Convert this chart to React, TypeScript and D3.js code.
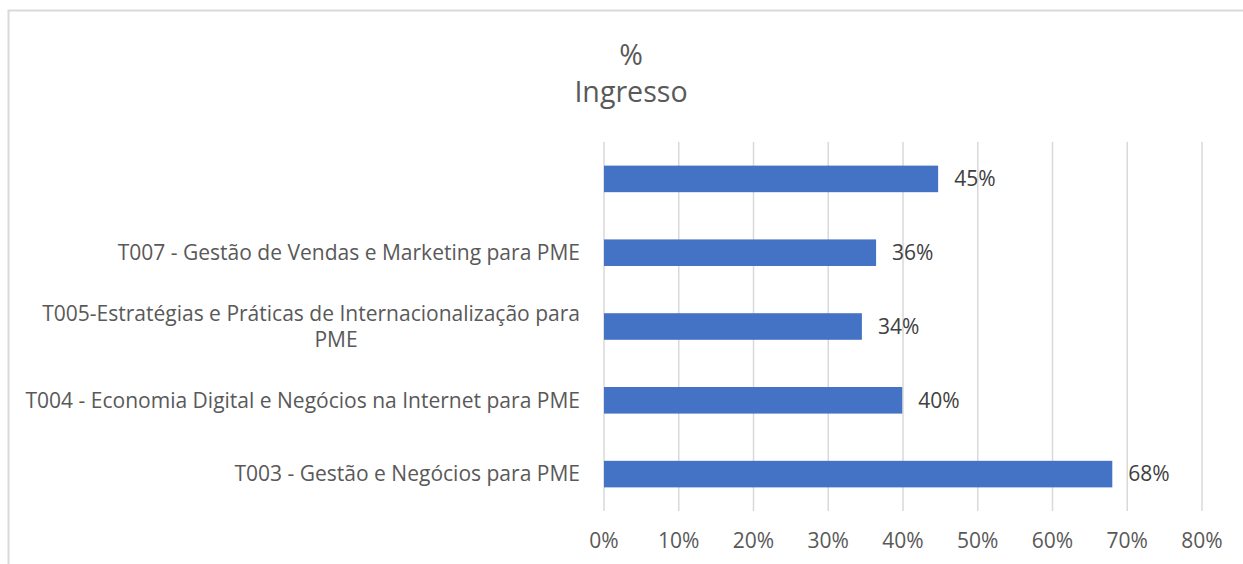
import React, { useRef, useEffect } from 'react';
import * as d3 from 'd3';

// categories top to bottom (the top one has no label in the source)
const categories = [
  '',
  'T007 - Gestão de Vendas e Marketing para PME',
  'T005-Estratégias e Práticas de Internacionalização para|PME',
  'T004 - Economia Digital e Negócios na Internet para PME',
  'T003 - Gestão e Negócios para PME',
];
const values = [0.447, 0.364, 0.345, 0.399, 0.68];
const labels = ['45%', '36%', '34%', '40%', '68%'];
const ticks = [0, 0.1, 0.2, 0.3, 0.4, 0.5, 0.6, 0.7, 0.8];
const titleLines = ['%', 'Ingresso'];

const FONT = '"Open Sans", Lato, sans-serif';

const App = () => {
  const svgRef = useRef<SVGSVGElement>(null);

  useEffect(() => {
    document.body.style.margin = '0';
    const svg = d3.select(svgRef.current);
    svg.selectAll('*').remove();

    const width = 1243;
    const height = 564;
    const margin = { top: 142, right: 41, bottom: 53, left: 604 };

    // chart frame
    svg.append('rect')
      .attr('x', 8.5).attr('y', 10.5)
      .attr('width', 1400).attr('height', 700)
      .attr('fill', '#fff')
      .attr('stroke', '#d9d9d9')
      .attr('stroke-width', 2);

    const x = d3.scaleLinear()
      .domain([0, 0.8])
      .range([margin.left, width - margin.right]);

    const y = d3.scaleBand<number>()
      .domain(categories.map((_, i) => i))
      .range([margin.top, height - margin.bottom])
      .paddingInner(0.64)
      .paddingOuter(0.32);

    // fit a label font size so the longest label spans what it does in the source
    const probe = svg.append('text')
      .style('font', `18px ${FONT}`)
      .text(categories[3]);
    const probeW = (probe.node() as SVGTextElement).getComputedTextLength();
    probe.remove();
    const fs = Math.min(22, Math.max(15, 18 * 555 / probeW));
    const titleFs = fs * 1.36;

    // gridlines
    svg.append('g')
      .selectAll('line')
      .data(ticks)
      .join('line')
      .attr('x1', d => x(d)).attr('x2', d => x(d))
      .attr('y1', margin.top).attr('y2', height - margin.bottom)
      .attr('stroke', '#d9d9d9')
      .attr('stroke-width', 1.5);

    // tick labels
    svg.append('g')
      .selectAll('text')
      .data(ticks)
      .join('text')
      .attr('x', d => x(d))
      .attr('y', 541)
      .attr('dy', '0.35em')
      .attr('text-anchor', 'middle')
      .attr('fill', '#595959')
      .style('font', `${fs}px ${FONT}`)
      .text(d => d3.format('.0%')(d));

    // bars
    svg.append('g')
      .selectAll('rect')
      .data(values)
      .join('rect')
      .attr('x', x(0))
      .attr('y', (_, i) => y(i)!)
      .attr('width', d => x(d) - x(0))
      .attr('height', y.bandwidth())
      .attr('fill', '#4472c4');

    // data labels
    svg.append('g')
      .selectAll('text')
      .data(values)
      .join('text')
      .attr('x', d => x(d) + 16)
      .attr('y', (_, i) => y(i)! + y.bandwidth() / 2)
      .attr('dy', '0.35em')
      .attr('fill', '#404040')
      .style('font', `${fs}px ${FONT}`)
      .text((_, i) => labels[i]);

    // category labels
    const catG = svg.append('g');
    categories.forEach((c, i) => {
      if (!c) return;
      const lines = c.split('|');
      const cy = y(i)! + y.bandwidth() / 2;
      const rightX = margin.left - 24;
      if (lines.length === 1) {
        catG.append('text')
          .attr('x', rightX).attr('y', cy)
          .attr('dy', '0.35em')
          .attr('text-anchor', 'end')
          .attr('fill', '#595959')
          .style('font', `${fs}px ${FONT}`)
          .text(c);
      } else {
        const lh = 26;
        const first = catG.append('text')
          .attr('x', rightX).attr('y', cy - lh / 2)
          .attr('dy', '0.35em')
          .attr('text-anchor', 'end')
          .attr('fill', '#595959')
          .style('font', `${fs}px ${FONT}`)
          .text(lines[0]);
        const w = (first.node() as SVGTextElement).getComputedTextLength();
        catG.append('text')
          .attr('x', rightX - w / 2 + 25).attr('y', cy + lh / 2)
          .attr('dy', '0.35em')
          .attr('text-anchor', 'middle')
          .attr('fill', '#595959')
          .style('font', `${fs}px ${FONT}`)
          .text(lines[1]);
      }
    });

    // title
    svg.append('g')
      .selectAll('text')
      .data(titleLines)
      .join('text')
      .attr('x', 631)
      .attr('y', (_, i) => 55 + i * 37)
      .attr('dy', '0.35em')
      .attr('text-anchor', 'middle')
      .attr('fill', '#595959')
      .style('font', `${titleFs}px ${FONT}`)
      .text(d => d);
  }, []);

  return (
    <svg ref={svgRef} width={1243} height={564} style={{ display: 'block' }}></svg>
  );
};

export default App;
